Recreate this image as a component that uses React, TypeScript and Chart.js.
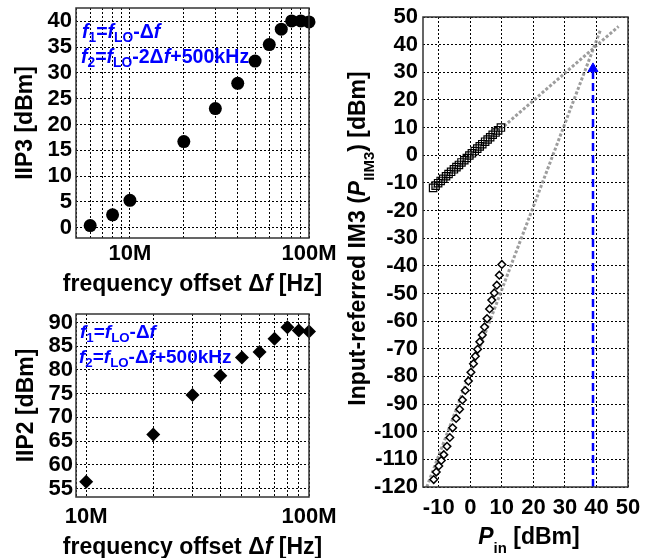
import React, { useEffect, useRef } from 'react';
import { Chart, registerables } from 'chart.js';

Chart.register(...registerables);

const FONT = '"Liberation Sans", Arial, Helvetica, sans-serif';
const BLUE = '#0000ff';

// ---------- IIP3 vs frequency offset (top-left) ----------
const iip3FreqMHz = [6, 8, 10, 20, 30, 40, 50, 60, 70, 80, 90, 100];
const iip3dBm = [0.4, 2.5, 5.3, 16.7, 23.1, 28.0, 32.3, 35.5, 38.5, 40.1, 40.1, 39.9];
const iip3XTicks = [5, 6, 7, 8, 9, 10, 20, 30, 40, 50, 60, 70, 80, 90, 100];
const iip3YTicks = [0, 5, 10, 15, 20, 25, 30, 35, 40];

// ---------- IIP2 vs frequency offset (bottom-left) ----------
const iip2FreqMHz = [10, 20, 30, 40, 50, 60, 70, 80, 90, 100];
const iip2dBm = [56.4, 66.4, 74.7, 78.8, 82.6, 83.8, 86.6, 89.0, 88.3, 88.1];
const iip2XTicks = [9, 10, 20, 30, 40, 50, 60, 70, 80, 90, 100];
const iip2YTicks = [55, 60, 65, 70, 75, 80, 85, 90];

const logTickLabels: Record<number, string> = { 10: '10M', 100: '100M' };

// ---------- Input-referred IM3 vs Pin (right) ----------
const pinFund = [-11.8, -11.0, -10.2, -9.4, -8.6, -7.7, -6.9, -6.1, -5.2, -4.4, -3.6, -2.8, -1.9, -1.1, -0.3, 0.5, 1.4, 2.2, 3.0, 3.8, 4.7, 5.5, 6.3, 7.1, 8.0, 8.8, 9.7];
const poutFund = [-11.8, -11.0, -10.1, -9.3, -8.5, -7.6, -6.8, -6.0, -5.1, -4.3, -3.5, -2.6, -1.8, -1.0, -0.1, 0.7, 1.5, 2.4, 3.2, 4.0, 4.9, 5.7, 6.5, 7.4, 8.2, 9.0, 10.0];
const pinIm3 = [-11.6, -10.8, -10.0, -9.2, -8.4, -7.4, -6.5, -5.6, -4.5, -3.4, -2.5, -1.6, -0.6, 0.2, 1.0, 1.6, 2.3, 3.0, 3.8, 4.5, 5.3, 6.1, 6.8, 7.6, 8.4, 9.2, 10.0];
const pIim3 = [-117.3, -114.6, -112.4, -110.4, -108.3, -105.3, -102.1, -98.6, -95.2, -91.9, -88.5, -85.1, -81.7, -78.5, -75.4, -72.7, -70.2, -67.5, -65.0, -62.1, -59.1, -55.6, -52.4, -49.8, -47.0, -43.4, -39.5];
const fundFitX = [-12, 47];
const fundFitY = [-12, 46.6];
const im3FitX = [-13.8, 41.3];
const im3FitY = [-120, 45.4];
const arrowX = [38.9, 38.9];
const arrowY = [-120, 30.2];
const arrowHeadX = [38.9];
const arrowHeadY = [31.3];
const im3XTicks = [-10, 0, 10, 20, 30, 40, 50];
const im3YTicks = [-120, -110, -100, -90, -80, -70, -60, -50, -40, -30, -20, -10, 0, 10, 20, 30, 40, 50];

// ---------- text helpers ----------
type Run = { t: string; it?: boolean; sub?: boolean };
type RunOpts = { align: 'left' | 'center'; rot?: boolean; subScale?: number; subShift?: number; mid?: boolean };

function runFont(size: number, r: Run, subScale: number) {
  return `${r.it ? 'italic ' : ''}bold ${r.sub ? size * subScale : size}px ${FONT}`;
}

function drawRuns(ctx: CanvasRenderingContext2D, runs: Run[], x: number, y: number, size: number, color: string, o: RunOpts) {
  const subScale = o.subScale ?? 0.65;
  const subShift = o.subShift ?? 0.4;
  ctx.save();
  ctx.fillStyle = color;
  ctx.textBaseline = 'alphabetic';
  ctx.textAlign = 'left';
  let total = 0;
  const widths = runs.map((r) => {
    ctx.font = runFont(size, r, subScale);
    const w = ctx.measureText(r.t).width;
    total += w;
    return w;
  });
  ctx.translate(x, y);
  if (o.rot) ctx.rotate(-Math.PI / 2);
  let cx = o.align === 'center' ? -total / 2 : 0;
  const base = o.mid ? 0.3 * size : 0;
  runs.forEach((r, i) => {
    ctx.font = runFont(size, r, subScale);
    ctx.fillText(r.t, cx, base + (r.sub ? subShift * size : 0));
    cx += widths[i];
  });
  ctx.restore();
}

const fixScale = (dim: 'width' | 'height', v: number) => (s: any) => {
  s[dim] = v;
  s.paddingLeft = 0;
  s.paddingRight = 0;
  s.paddingTop = 0;
  s.paddingBottom = 0;
};

const setTicks = (vals: number[]) => (s: any) => {
  s.ticks = vals.map((v) => ({ value: v }));
};

const tickFont = { family: FONT, size: 22, weight: 'bold' as const };

function gridOpts() {
  return { color: '#000', lineWidth: 1, drawTicks: false };
}
const borderOpts = { display: false, dash: [2, 2] };

function decorPlugin(drawTexts: (ctx: CanvasRenderingContext2D, ca: any) => void) {
  return {
    id: 'decor',
    afterDatasetsDraw(chart: any) {
      const { ctx, chartArea: ca } = chart;
      ctx.save();
      ctx.setLineDash([]);
      ctx.strokeStyle = '#333';
      ctx.lineWidth = 1.5;
      ctx.strokeRect(ca.left, ca.top, ca.right - ca.left, ca.bottom - ca.top);
      ctx.restore();
    },
    afterDraw(chart: any) {
      drawTexts(chart.ctx, chart.chartArea);
    },
  };
}

const xTitleRuns: Run[] = [{ t: 'frequency offset Δ' }, { t: 'f', it: true }, { t: ' [Hz]' }];

function annot(ctx: CanvasRenderingContext2D, x: number, y1: number, y2: number, line2mid: string, size: number) {
  const o: RunOpts = { align: 'left', subScale: 0.7, subShift: 0.22 };
  drawRuns(ctx, [{ t: 'f', it: true }, { t: '1', sub: true }, { t: '=' }, { t: 'f', it: true }, { t: 'LO', sub: true }, { t: '-Δ' }, { t: 'f', it: true }], x, y1, size, BLUE, o);
  drawRuns(ctx, [{ t: 'f', it: true }, { t: '2', sub: true }, { t: '=' }, { t: 'f', it: true }, { t: 'LO', sub: true }, { t: line2mid }, { t: 'f', it: true }, { t: '+500kHz' }], x - 1, y2, size, BLUE, o);
}

function commonOptions(extra: any) {
  return {
    responsive: false,
    animation: false as const,
    devicePixelRatio: 1,
    plugins: { legend: { display: false }, tooltip: { enabled: false } },
    ...extra,
  };
}

function buildIIP3(): any {
  return {
    type: 'scatter',
    data: {
      datasets: [
        {
          data: iip3FreqMHz.map((f, i) => ({ x: f, y: iip3dBm[i] })),
          pointStyle: 'circle',
          pointRadius: 6.5,
          backgroundColor: '#000',
          borderColor: '#000',
          borderWidth: 0,
          showLine: false,
          clip: false,
        },
      ],
    },
    options: commonOptions({
      layout: { padding: { left: 6, top: 8, right: 36, bottom: 22 } },
      scales: {
        x: {
          type: 'logarithmic',
          min: 5,
          max: 100,
          afterBuildTicks: setTicks(iip3XTicks),
          afterFit: fixScale('height', 40),
          grid: gridOpts(),
          border: borderOpts,
          ticks: { autoSkip: false, maxRotation: 0, padding: 3, font: tickFont, color: '#000', callback: (v: number) => logTickLabels[v] ?? '' },
        },
        y: {
          min: -2,
          max: 42.6,
          afterBuildTicks: setTicks(iip3YTicks),
          afterFit: fixScale('width', 70),
          grid: gridOpts(),
          border: borderOpts,
          ticks: { autoSkip: false, padding: 4, font: tickFont, color: '#000', callback: (v: number) => String(v) },
        },
      },
    }),
    plugins: [
      decorPlugin((ctx, ca) => {
        drawRuns(ctx, xTitleRuns, (ca.left + ca.right) / 2, ca.bottom + 46, 23, '#000', { align: 'center', mid: true });
        drawRuns(ctx, [{ t: 'IIP3 [dBm]' }], ca.left - 51, (ca.top + ca.bottom) / 2, 23, '#000', { align: 'center', rot: true, mid: true });
        annot(ctx, 82, 37.5, 62.5, '-2Δ', 19.6);
      }),
    ],
  };
}

function buildIIP2(): any {
  return {
    type: 'scatter',
    data: {
      datasets: [
        {
          data: iip2FreqMHz.map((f, i) => ({ x: f, y: iip2dBm[i] })),
          pointStyle: 'rectRot',
          pointRadius: 7,
          backgroundColor: '#000',
          borderColor: '#000',
          borderWidth: 0,
          showLine: false,
          clip: false,
        },
      ],
    },
    options: commonOptions({
      layout: { padding: { left: 6, top: 14, right: 36, bottom: 21 } },
      scales: {
        x: {
          type: 'logarithmic',
          min: 9,
          max: 100,
          afterBuildTicks: setTicks(iip2XTicks),
          afterFit: fixScale('height', 40),
          grid: gridOpts(),
          border: borderOpts,
          ticks: { autoSkip: false, maxRotation: 0, padding: 7, font: tickFont, color: '#000', callback: (v: number) => logTickLabels[v] ?? '' },
        },
        y: {
          min: 53.2,
          max: 91.8,
          afterBuildTicks: setTicks(iip2YTicks),
          afterFit: fixScale('width', 70),
          grid: gridOpts(),
          border: borderOpts,
          ticks: { autoSkip: false, padding: 3, font: tickFont, color: '#000', callback: (v: number) => String(v) },
        },
      },
    }),
    plugins: [
      decorPlugin((ctx, ca) => {
        drawRuns(ctx, xTitleRuns, (ca.left + ca.right) / 2, ca.bottom + 50, 23, '#000', { align: 'center', mid: true });
        drawRuns(ctx, [{ t: 'IIP2 [dBm]' }], ca.left - 50, (ca.top + ca.bottom) / 2, 23, '#000', { align: 'center', rot: true, mid: true });
        annot(ctx, 80, 37.5, 62.5, '-Δ', 19);
      }),
    ],
  };
}

function buildIM3(): any {
  const pts = (xs: number[], ys: number[]) => xs.map((x, i) => ({ x, y: ys[i] }));
  return {
    type: 'scatter',
    data: {
      datasets: [
        {
          data: pts(pinFund, poutFund),
          pointStyle: 'rect',
          pointRadius: 5.2,
          backgroundColor: 'rgba(255,255,255,0)',
          borderColor: '#000',
          borderWidth: 1.2,
          showLine: false,
          order: 0,
        },
        {
          data: pts(pinIm3, pIim3),
          pointStyle: 'rectRot',
          pointRadius: 3.8,
          backgroundColor: '#fff',
          borderColor: '#000',
          borderWidth: 1.5,
          showLine: false,
          order: 0,
        },
        {
          data: pts(fundFitX, fundFitY),
          showLine: true,
          pointRadius: 0,
          borderColor: 'rgba(140,140,140,0.85)',
          borderWidth: 3,
          borderDash: [3, 2],
          order: 3,
        },
        {
          data: pts(im3FitX, im3FitY),
          showLine: true,
          pointRadius: 0,
          borderColor: 'rgba(140,140,140,0.85)',
          borderWidth: 3,
          borderDash: [3, 2],
          order: 3,
        },
        {
          data: pts(arrowX, arrowY),
          showLine: true,
          pointRadius: 0,
          borderColor: BLUE,
          borderWidth: 2.5,
          borderDash: [8, 4],
          order: 1,
        },
        {
          data: pts(arrowHeadX, arrowHeadY),
          showLine: false,
          pointStyle: 'triangle',
          pointRadius: 5.8,
          backgroundColor: BLUE,
          borderColor: BLUE,
          borderWidth: 1,
          order: 1,
        },
      ],
    },
    options: commonOptions({
      layout: { padding: { left: 8, top: 17, right: 23, bottom: 31 } },
      scales: {
        x: {
          type: 'linear',
          min: -15,
          max: 50,
          afterBuildTicks: setTicks(im3XTicks),
          afterFit: fixScale('height', 40),
          grid: gridOpts(),
          border: borderOpts,
          ticks: { autoSkip: false, maxRotation: 0, padding: 8, font: tickFont, color: '#000', callback: (v: number) => String(v) },
        },
        y: {
          min: -120,
          max: 50,
          afterBuildTicks: setTicks(im3YTicks),
          afterFit: fixScale('width', 80),
          grid: gridOpts(),
          border: borderOpts,
          ticks: { autoSkip: false, padding: 5, font: tickFont, color: '#000', callback: (v: number) => String(v) },
        },
      },
    }),
    plugins: [
      decorPlugin((ctx, ca) => {
        drawRuns(ctx, [{ t: 'P', it: true }, { t: 'in', sub: true }, { t: ' [dBm]' }], 194, ca.bottom + 50, 23, '#000', { align: 'center', mid: true });
        drawRuns(
          ctx,
          [{ t: 'Input-referred IM3 (' }, { t: 'P', it: true }, { t: 'IIM3', sub: true }, { t: ') [dBm]' }],
          23,
          238.5,
          23,
          '#000',
          { align: 'center', rot: true, mid: true }
        );
      }),
    ],
  };
}

function Panel(props: { left: number; top: number; width: number; height: number; build: () => any }) {
  const ref = useRef<HTMLCanvasElement>(null);
  useEffect(() => {
    const chart = new Chart(ref.current as HTMLCanvasElement, props.build());
    return () => chart.destroy();
  }, []);
  return (
    <canvas
      ref={ref}
      width={props.width}
      height={props.height}
      style={{ position: 'absolute', left: props.left, top: props.top, width: props.width, height: props.height }}
    />
  );
}

export default function App() {
  return (
    <div style={{ position: 'absolute', left: 0, top: 0, width: 651, height: 558, background: '#fff', overflow: 'hidden' }}>
      <Panel left={0} top={0} width={345} height={300} build={buildIIP3} />
      <Panel left={0} top={300} width={345} height={258} build={buildIIP2} />
      <Panel left={335} top={0} width={316} height={558} build={buildIM3} />
    </div>
  );
}
